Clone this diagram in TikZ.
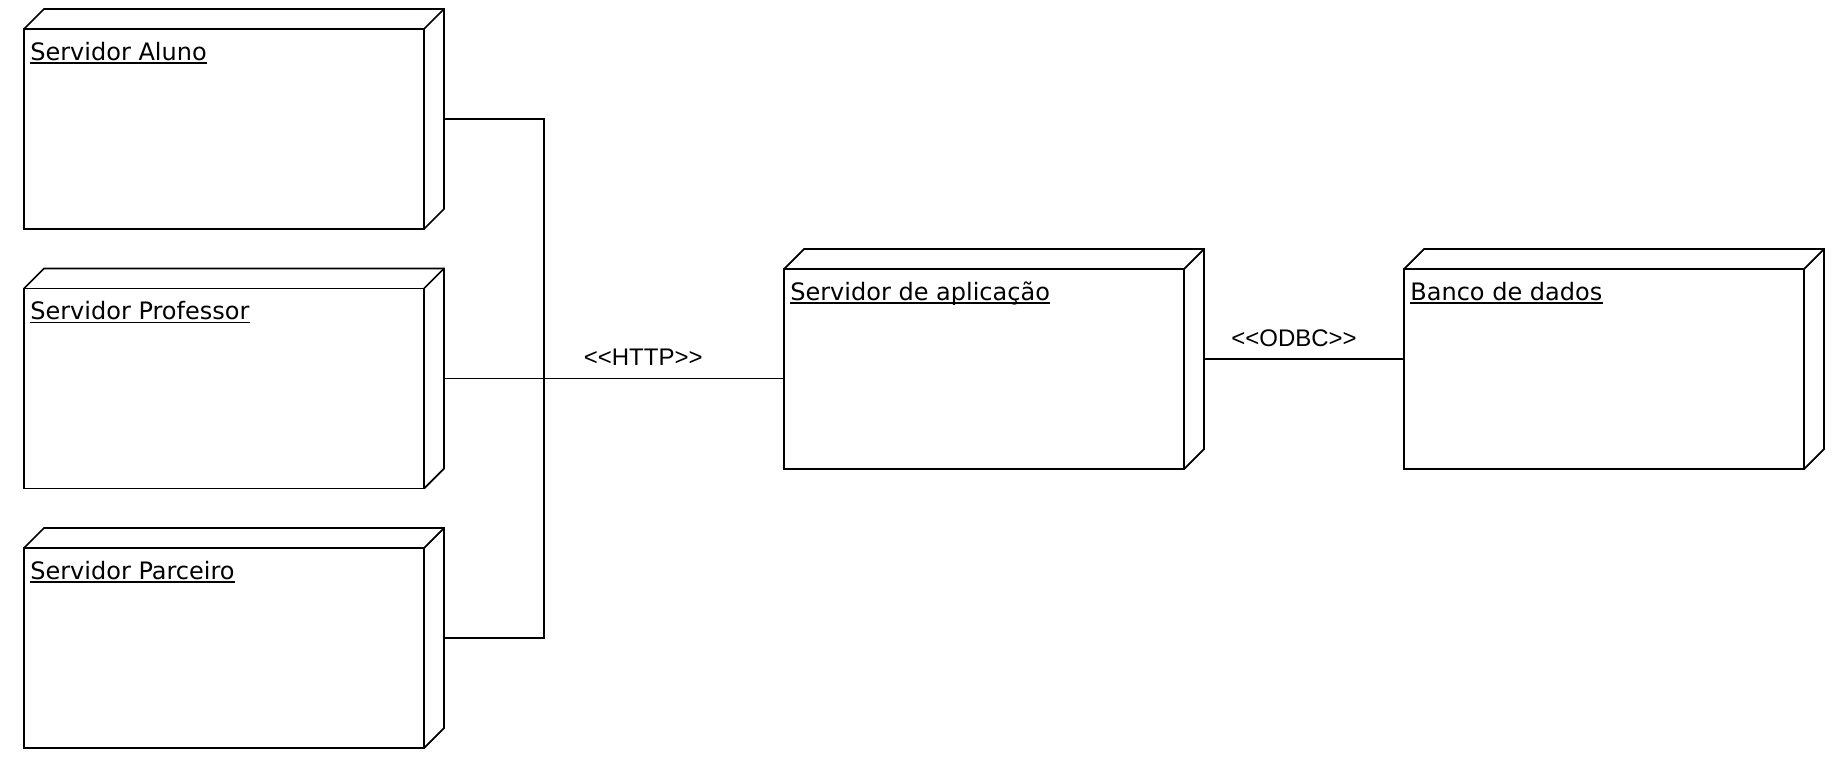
\documentclass[tikz,border=0pt]{standalone}
\usepackage{fontspec}
\setmainfont{DejaVu Sans}
\newfontfamily\stereofont{Liberation Sans}
\usetikzlibrary{positioning}
\tikzset{
    device/.style = {draw, line width=1pt, inner sep=0pt, outer sep=0pt,
        minimum width=8cm, minimum height=4cm, anchor=north west},
    title/.style = {anchor=base west, inner sep=0pt, font=\fontsize{13.66}{16}\selectfont},
    stereo/.style = {anchor=base, inner sep=0pt, font=\stereofont\fontsize{13.66}{16}\selectfont},
    link/.style = {line width=1pt},
    underbar/.style = {line width=0.85pt},
}

\begin{document}
\begin{tikzpicture}
    \useasboundingbox (0,0) rectangle (36.76,-15.5);
    % nodes
    \node (aluno) at (0.48,-0.58) [device] {};
    \node (professor) [device, below=1.19cm of aluno] {};
    \node (parceiro) [device, below=1.19cm of professor] {};
    \node (app) at (15.68,-5.38) [device] {};
    \node (banco) [device, right=4.4cm of app] {};
    % 3d sides
    \foreach \n in {aluno,professor,parceiro,app,banco} {
        \draw[link] (\n.north west) -- ++(0.4,0.4) -- ([shift={(0.4,0.4)}]\n.north east)
            -- ([shift={(0.4,0.4)}]\n.south east) -- (\n.south east);
        \draw[link] (\n.north east) -- ++(0.4,0.4);
        \coordinate (\n-back) at ([shift={(0.4,0.2)}]\n.east);
    }
    % titles, underlined
    \foreach \n/\txt in {aluno/Servidor Aluno, professor/Servidor Professor,
            parceiro/Servidor Parceiro, app/Servidor de aplicação, banco/Banco de dados} {
        \node (\n-title) at ([shift={(0.12,-0.62)}]\n.north west) [title] {\txt};
        \draw[underbar] ([yshift=-0.06cm]\n-title.base west) -- ([yshift=-0.06cm]\n-title.base east);
    }
    % connectors
    \coordinate (bus) at ([xshift=2cm]professor-back);
    \draw[link] (aluno-back) -| (bus) |- (parceiro-back);
    \draw[link] (professor-back) -- (app.west |- professor-back)
        node (http) [stereo, pos=0.586, yshift=0.266cm] {{<}{<}HTTP{>}{>}};
    \draw[link] (app-back) -- (banco.west |- app-back)
        node (odbc) [stereo, pos=0.45, yshift=0.25cm] {{<}{<}ODBC{>}{>}};
\end{tikzpicture}
\end{document}
